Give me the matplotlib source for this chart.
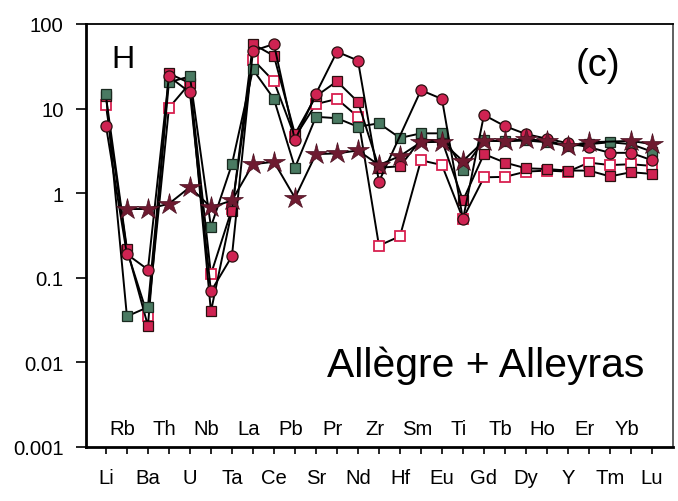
import numpy as np
import matplotlib
matplotlib.use('Agg')
import matplotlib.pyplot as plt
from matplotlib import font_manager
from matplotlib.ticker import FixedLocator, FixedFormatter, NullLocator

# normalized trace-element concentrations, one list per sample (nan = not analysed)
elements = ['Li', 'Rb', 'Ba', 'Th', 'U', 'Nb', 'Ta', 'La', 'Ce', 'Pb', 'Sr', 'Pr', 'Nd', 'Zr',
            'Hf', 'Sm', 'Eu', 'Ti', 'Gd', 'Tb', 'Dy', 'Ho', 'Y', 'Er', 'Tm', 'Yb', 'Lu']
nan = np.nan
open_sq = [11, 0.21, 0.035, 10.2, 20, 0.11, 0.65, 38, 21, 4.6, 11.3, 13, 8.0, 0.24,
           0.31, 2.45, 2.15, 0.5, 1.54, 1.56, 1.8, 1.85, 1.8, 2.3, 2.15, 2.2, 2.1]
red_sq = [14, 0.22, 0.027, 26, 20, 0.04, 0.62, 58, 42, 5.0, 14, 21, 12, 2.0,
          2.08, 4.3, 4.2, 0.82, 2.9, 2.3, 1.97, 1.93, 1.85, 1.85, 1.58, 1.77, 1.69]
green_sq = [14.9, 0.035, 0.045, 20.5, 24, 0.40, 2.2, 29, 13, 2.0, 8.0, 7.7, 6.1, 6.7,
            4.5, 5.1, 5.1, 1.9, 4.2, 4.1, 4.2, 4.0, 3.6, 3.8, 4.0, 3.8, 3.1]
circles = [6.3, 0.19, 0.125, 24, 15.5, 0.069, 0.18, 48, 58, 4.2, 15, 47, 37, 1.37,
           nan, 16.5, 13, 0.49, 8.4, 6.2, 5.0, 4.4, 3.9, 3.5, 3.0, 3.0, 2.45]
stars = [nan, 0.65, 0.65, 0.75, 1.18, 0.68, 0.82, 2.2, 2.35, 0.88, 2.9, 2.95, 3.2, 2.15,
         2.75, 4.0, 4.05, 2.4, 4.15, 4.15, 4.35, 4.15, 3.65, 4.0, nan, 4.15, 3.8]

yticks = [0.001, 0.01, 0.1, 1, 10, 100]
ytick_labels = ['0.001', '0.01', '0.1', '1', '10', '100']

names = {f.name for f in font_manager.fontManager.ttflist}
if 'Liberation Sans Narrow' in names:
    family, k = 'Liberation Sans Narrow', 1.0
else:
    family, k = 'Liberation Sans', 0.86
plt.rcParams['font.family'] = family

fig = plt.figure(figsize=(6.78, 5.02), dpi=100)
ax = fig.add_axes([0.1268, 0.1076, 0.8658, 0.8426])

x = np.arange(len(elements))
series = [
    (open_sq, dict(marker='s', ms=7, mfc='white', mec='#d8204f', mew=1.3)),
    (red_sq, dict(marker='s', ms=7, mfc='#cf2352', mec='#2a1010', mew=0.9)),
    (green_sq, dict(marker='s', ms=7, mfc='#4a7a62', mec='#1a2a20', mew=0.9)),
    (circles, dict(marker='o', ms=8, mfc='#cf2352', mec='#2a1010', mew=0.9)),
    (stars, dict(marker='*', ms=16, mfc='#6e1a30', mec='#4a1020', mew=0.5)),
]
for vals, style in series:
    v = np.array(vals, dtype=float)
    ok = ~np.isnan(v)
    ax.plot(x[ok], v[ok], color='black', lw=1.4, **style)

ax.set_yscale('log')
ax.set_ylim(0.001, 100)
ax.set_xlim(-0.95, 27.0)
ax.yaxis.set_major_locator(FixedLocator(yticks))
ax.yaxis.set_major_formatter(FixedFormatter(ytick_labels))
ax.yaxis.set_minor_locator(NullLocator())

ax.set_xticks(x)
ax.set_xticklabels([e if i % 2 == 0 else '' for i, e in enumerate(elements)])
for i, e in enumerate(elements):
    if i % 2 == 1:
        ax.text(i - 0.2, 0.03, e, transform=ax.get_xaxis_transform(),
                ha='center', va='baseline', fontsize=17 * k)

ax.tick_params(axis='y', direction='out', length=7, width=1.2, pad=9, labelsize=17 * k)
ax.tick_params(axis='x', direction='out', length=5, width=1.2, pad=10, labelsize=17 * k)
for side in ['left', 'bottom']:
    ax.spines[side].set_linewidth(2.0)
ax.spines['top'].set_linewidth(1.3)
ax.spines['right'].set_linewidth(1.2)
ax.spines['right'].set_color('#444444')

ax.text(0.044, 0.917, 'H', transform=ax.transAxes, ha='left', va='center', fontsize=27 * k)
ax.text(0.872, 0.903, '(c)', transform=ax.transAxes, ha='center', va='center', fontsize=32 * k)
ax.text(0.681, 0.168, 'Allègre + Alleyras', transform=ax.transAxes,
        ha='center', va='baseline', fontsize=35 * 0.84)

fig.savefig('out.png', dpi=100)
